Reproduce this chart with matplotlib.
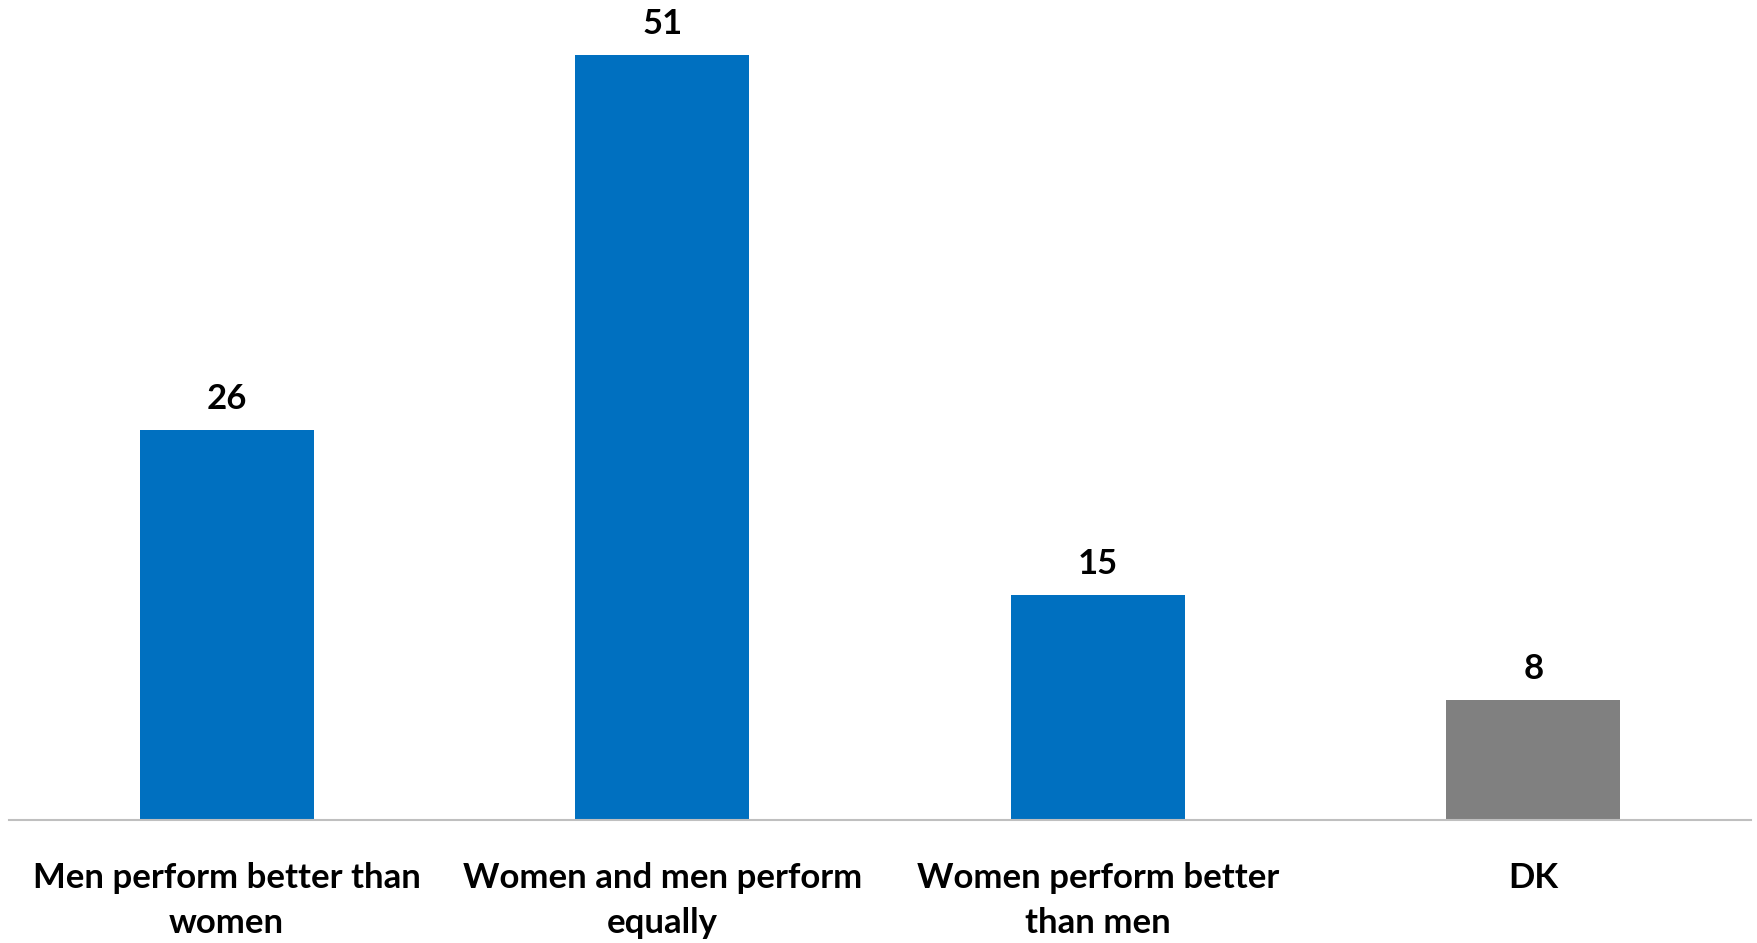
import matplotlib.pyplot as plt

# data
categories = ["Men perform better than\nwomen", "Women and men perform\nequally",
              "Women perform better\nthan men", "DK"]
values = [26, 51, 15, 8]
colors = ["#0070C0", "#0070C0", "#0070C0", "#808080"]

plt.rcParams['font.family'] = ['Lato', 'DejaVu Sans']

fig = plt.figure(figsize=(17.58, 9.43), dpi=100)
ax = fig.add_axes([9 / 1758, 123 / 943, 1742 / 1758, 820 / 943])

x = range(len(categories))
bars = ax.bar(x, values, width=0.4, color=colors)

for b, v in zip(bars, values):
    ax.annotate(str(v), (b.get_x() + b.get_width() / 2, v), xytext=(0, 11),
                textcoords="offset points", ha="center", va="bottom",
                fontsize=25, fontweight="bold")

ax.set_xlim(-0.5, 3.5)
ax.set_ylim(0, 54.7)
ax.set_xticks(list(x))
ax.set_xticklabels(categories, fontsize=25, fontweight="bold", linespacing=1.5)
ax.tick_params(axis="x", length=0, pad=30)
ax.set_yticks([])
for s in ["top", "left", "right"]:
    ax.spines[s].set_visible(False)
ax.spines["bottom"].set_color("#BFBFBF")
ax.spines["bottom"].set_linewidth(1.5)

fig.savefig("out.png", dpi=100)
